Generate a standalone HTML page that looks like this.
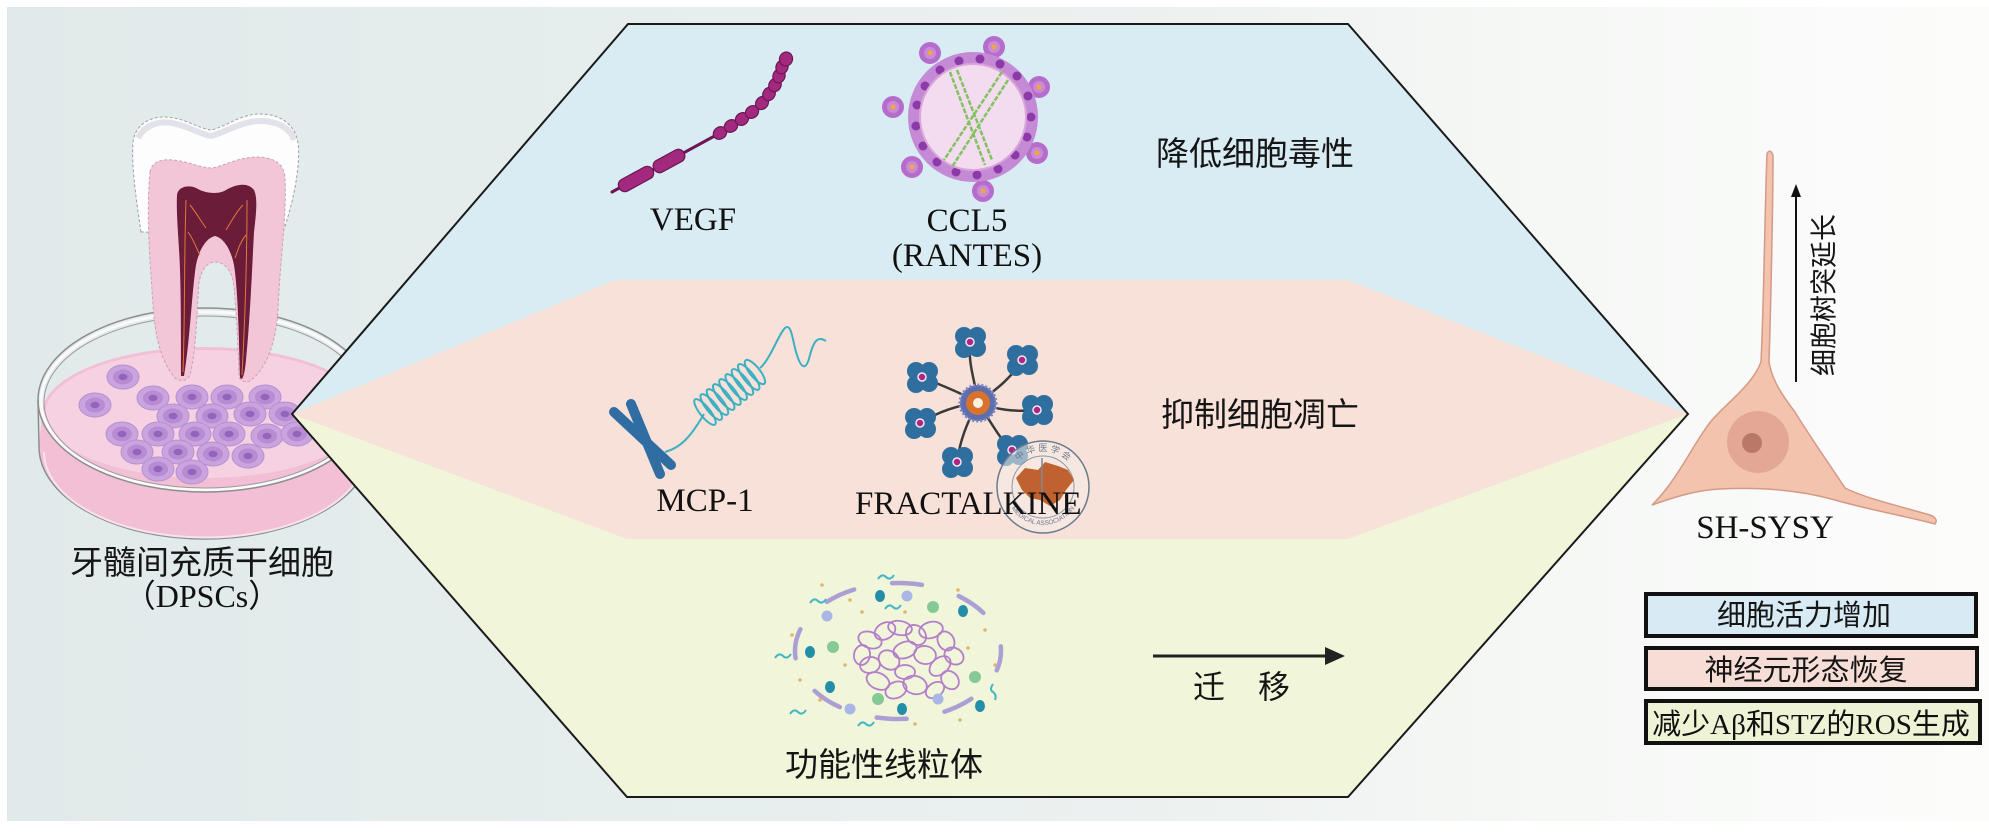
<!DOCTYPE html>
<html><head><meta charset="utf-8">
<style>
html,body{margin:0;padding:0;background:#fff;}
svg{display:block;}
</style></head><body>
<svg width="1989" height="834" viewBox="0 0 1989 834" xmlns="http://www.w3.org/2000/svg" xmlns:xlink="http://www.w3.org/1999/xlink">
<defs>
<linearGradient id="bg" x1="0" y1="0" x2="1" y2="0">
 <stop offset="0" stop-color="#e1eaea"/>
 <stop offset="0.3" stop-color="#e5eded"/>
 <stop offset="0.6" stop-color="#edf1f0"/>
 <stop offset="0.75" stop-color="#f5f7f5"/>
 <stop offset="0.93" stop-color="#fafbfa"/>
 <stop offset="1" stop-color="#fcfcfb"/>
</linearGradient>
<g id="cell"><ellipse rx="16" ry="12" fill="#caa4df" stroke="#b690d0" stroke-width="1"/><ellipse rx="10" ry="7.5" fill="#b78cd3"/><ellipse rx="4.5" ry="3.2" fill="#9364bb"/></g>
<g id="cl"><g fill="#2f6f9f"><circle cx="-6" cy="-6" r="9"/><circle cx="7" cy="-6" r="9"/><circle cx="-6" cy="7" r="9"/><circle cx="7" cy="6" r="9"/></g><circle r="4" fill="#ad2585" stroke="#f4e6f0" stroke-width="1.5"/></g>
<g id="spk"><circle r="11" fill="#b66ccb"/><circle r="6" fill="#c98bd8"/><circle r="2.5" fill="#f2a640"/></g>
<path id="wmTop" d="M1007,487 A36,36 0 0 1 1079,487"/>
<path id="wmBot" d="M1005,487 A38,38 0 0 0 1081,487"/>
</defs>

<rect x="0" y="0" width="1989" height="834" fill="#fff"/>
<rect x="7" y="7" width="1982" height="814" fill="url(#bg)"/>

<!-- Petri dish -->
<g>
 <path d="M42,414 A163,67 0 0 1 368,414 L371,447 A166,92 0 0 1 39,447 Z" fill="#f2bfd5"/>
 <ellipse cx="205" cy="414" rx="160" ry="64" fill="#f6d1e2"/>
 <ellipse cx="205" cy="401" rx="164" ry="89" fill="none" stroke="#fafafa" stroke-width="3"/>
 <ellipse cx="205" cy="400" rx="167" ry="92" fill="none" stroke="#8e8e8e" stroke-width="1.5"/>
 <ellipse cx="205" cy="402" rx="161" ry="86" fill="none" stroke="#9c9c9c" stroke-width="1"/>
 <path d="M38,400 L39,447 A166,92 0 0 0 371,447" fill="none" stroke="#8e8e8e" stroke-width="1.5"/>
 <path d="M44,452 A160,85 0 0 0 366,452" fill="none" stroke="#f7e3ec" stroke-width="2"/>
</g>
<g>
 <use xlink:href="#cell" x="123" y="377"/><use xlink:href="#cell" x="95" y="405"/>
 <use xlink:href="#cell" x="153" y="398"/><use xlink:href="#cell" x="192" y="397"/>
 <use xlink:href="#cell" x="227" y="397"/><use xlink:href="#cell" x="265" y="397"/>
 <use xlink:href="#cell" x="173" y="416"/><use xlink:href="#cell" x="212" y="416"/>
 <use xlink:href="#cell" x="250" y="414"/><use xlink:href="#cell" x="285" y="414"/>
 <use xlink:href="#cell" x="122" y="434"/><use xlink:href="#cell" x="158" y="434"/>
 <use xlink:href="#cell" x="195" y="434"/><use xlink:href="#cell" x="229" y="434"/>
 <use xlink:href="#cell" x="267" y="436"/><use xlink:href="#cell" x="297" y="434"/>
 <use xlink:href="#cell" x="137" y="452"/><use xlink:href="#cell" x="178" y="452"/>
 <use xlink:href="#cell" x="213" y="454"/><use xlink:href="#cell" x="248" y="456"/>
 <use xlink:href="#cell" x="158" y="469"/><use xlink:href="#cell" x="192" y="472"/>
</g>

<!-- Tooth -->
<g>
 <path d="M141,232 C137,205 131,165 133,142 C135,126 148,117 164,117 C183,117 197,128 211,130 C226,127 240,114 260,114 C280,114 295,124 298,143 C301,165 293,205 282,235 Z" fill="#fdfdfd" stroke="#a0a0a0" stroke-width="1" stroke-dasharray="3 2"/>
 <path d="M138,138 C145,124 160,121 172,123 C188,126 200,134 211,136 C226,132 242,121 260,121 C276,121 290,127 294,140" fill="none" stroke="#e2e2ea" stroke-width="6"/>
 <path d="M150,172 C152,160 165,158 180,161 C192,163 202,168 212,168 C224,166 236,158 255,157 C272,157 284,162 285,178 C287,215 280,260 278,310 C276,345 265,370 250,381 C244,383 240,381 239,376 C238,345 236,300 233,280 C230,268 223,262 215,262 C207,262 201,270 199,283 C197,305 197,345 190,375 C187,381 180,382 175,378 C160,360 155,335 153,305 C150,260 146,215 150,172 Z" fill="#f2c5d7" stroke="#c9a2b4" stroke-width="1" stroke-dasharray="3 2"/>
 <path d="M177,195 C178,186 190,184 198,189 C205,193 218,195 226,190 C236,184 248,182 254,190 C258,198 256,215 254,232 C252,270 250,320 246,360 C245,370 244,376 242,379 L240,378 C239,340 238,290 234,265 C231,250 224,238 215,236 C206,238 199,250 196,265 C192,290 190,340 184,376 L181,376 C181,340 181,300 180,270 C179,240 176,215 177,195 Z" fill="#6a1c38"/>
 <g fill="none" stroke="#e0793e" stroke-width="1">
  <path d="M186,200 C184,260 185,320 183,372"/>
  <path d="M247,200 C247,260 245,320 242,375"/>
  <path d="M190,205 C196,212 200,220 206,228"/>
  <path d="M243,205 C236,212 231,222 226,230"/>
  <path d="M188,232 C194,240 196,248 200,255"/>
  <path d="M246,235 C240,242 238,250 235,258"/>
 </g>
</g>

<!-- Hexagon bands -->
<polygon points="292,414 628,24 1348,24 1688,414 1348,797 627,797" fill="#f1f6da"/>
<polygon points="292,414 615,280 1348,280 1688,414 1348,539 627,539" fill="#f7e1d8"/>
<polygon points="292,414 628,24 1348,24 1688,414 1348,280 615,280" fill="#d9ecf4"/>
<polygon points="292,414 628,24 1348,24 1688,414 1348,797 627,797" fill="none" stroke="#1a1a1a" stroke-width="2"/>

<!-- VEGF -->
<g>
 <line x1="612" y1="192" x2="720" y2="133" stroke="#6d1556" stroke-width="3" stroke-linecap="round"/>
 <rect x="-19" y="-6.5" width="38" height="13" rx="6" transform="translate(636,179) rotate(-28.6)" fill="#a3297f" stroke="#6d1556" stroke-width="1.2"/>
 <rect x="-17" y="-6.5" width="34" height="13" rx="6" transform="translate(669,161) rotate(-28.6)" fill="#a3297f" stroke="#6d1556" stroke-width="1.2"/>
 <g fill="#a3297f" stroke="#6d1556" stroke-width="1.2">
  <ellipse cx="720" cy="133" rx="7" ry="6" transform="rotate(-35 720 133)"/>
  <ellipse cx="731" cy="126" rx="7" ry="6" transform="rotate(-35 731 126)"/>
  <ellipse cx="742" cy="119" rx="7" ry="6" transform="rotate(-38 742 119)"/>
  <ellipse cx="752" cy="112" rx="7" ry="6" transform="rotate(-40 752 112)"/>
  <ellipse cx="762" cy="103" rx="7" ry="6" transform="rotate(-48 762 103)"/>
  <ellipse cx="769" cy="94" rx="7" ry="6" transform="rotate(-55 769 94)"/>
  <ellipse cx="775" cy="85" rx="7" ry="6" transform="rotate(-62 775 85)"/>
  <ellipse cx="779" cy="76" rx="7" ry="6" transform="rotate(-70 779 76)"/>
  <ellipse cx="782" cy="67" rx="7" ry="6" transform="rotate(-72 782 67)"/>
  <ellipse cx="786" cy="59" rx="7" ry="6.5" transform="rotate(-72 786 59)"/>
 </g>
</g>

<!-- CCL5 virus -->
<g>
 <use xlink:href="#spk" x="930" y="53"/><use xlink:href="#spk" x="994" y="47"/>
 <use xlink:href="#spk" x="893" y="107"/><use xlink:href="#spk" x="912" y="167"/>
 <use xlink:href="#spk" x="983" y="191"/><use xlink:href="#spk" x="1039" y="87"/>
 <use xlink:href="#spk" x="1037" y="153"/>
 <circle cx="973" cy="117" r="65" fill="#c48ad6"/>
 <g fill="#8b3aa8">
  <circle cx="1031" cy="117" r="4.5"/><circle cx="1027" cy="137" r="4.5"/><circle cx="1015" cy="155" r="4.5"/>
  <circle cx="998" cy="169" r="4.5"/><circle cx="977" cy="175" r="4.5"/><circle cx="956" cy="172" r="4.5"/>
  <circle cx="937" cy="162" r="4.5"/><circle cx="923" cy="146" r="4.5"/><circle cx="916" cy="126" r="4.5"/>
  <circle cx="917" cy="105" r="4.5"/><circle cx="925" cy="86" r="4.5"/><circle cx="940" cy="70" r="4.5"/>
  <circle cx="959" cy="61" r="4.5"/><circle cx="980" cy="59" r="4.5"/><circle cx="1000" cy="64" r="4.5"/>
  <circle cx="1017" cy="76" r="4.5"/><circle cx="1028" cy="96" r="4.5"/>
 </g>
 <circle cx="973" cy="117" r="53" fill="#f4dcf0" stroke="#dba6d8" stroke-width="2"/>
 <g stroke="#82c260" stroke-width="2.5" stroke-dasharray="5 1.5" fill="none">
  <line x1="950" y1="72" x2="985" y2="165"/>
  <line x1="957" y1="70" x2="992" y2="160"/>
  <line x1="1002" y1="72" x2="944" y2="160"/>
  <line x1="1008" y1="80" x2="952" y2="167"/>
 </g>
</g>

<!-- MCP-1 -->
<g>
 <g stroke="#2f6da3" stroke-width="10" stroke-linecap="round">
  <line x1="614" y1="412" x2="671" y2="465"/>
  <line x1="631" y1="404" x2="660" y2="474"/>
 </g>
 <g fill="none" stroke="#3bb0c2" stroke-width="2">
  <path d="M665,452 C680,448 690,438 704,414"/>
  <g transform="translate(705,412) rotate(-38.7)">
   <ellipse cx="0" cy="0" rx="5" ry="16"/><ellipse cx="8" cy="0" rx="5" ry="16"/><ellipse cx="16" cy="0" rx="5" ry="16"/>
   <ellipse cx="24" cy="0" rx="5" ry="16"/><ellipse cx="32" cy="0" rx="5" ry="16"/><ellipse cx="40" cy="0" rx="5" ry="16"/>
   <ellipse cx="48" cy="0" rx="5" ry="16"/><ellipse cx="56" cy="0" rx="5" ry="16"/><ellipse cx="64" cy="0" rx="5" ry="15"/>
  </g>
  <path d="M760,368 C770,360 778,335 785,328 C792,322 793,345 797,355 C801,368 806,372 810,355 C814,340 818,336 826,341"/>
 </g>
</g>

<!-- Fractalkine -->
<g>
 <g fill="none" stroke="#3a3a3a" stroke-width="2.5">
  <path d="M978,403 C975,380 968,365 970,342"/>
  <path d="M978,403 C995,390 1010,380 1022,360"/>
  <path d="M978,403 C960,392 940,385 922,377"/>
  <path d="M978,403 C998,410 1015,412 1037,410"/>
  <path d="M978,403 C958,405 938,412 920,423"/>
  <path d="M978,403 C990,420 1000,440 1012,450"/>
  <path d="M978,403 C968,420 960,440 957,462"/>
 </g>
 <use xlink:href="#cl" x="970" y="342"/><use xlink:href="#cl" x="1022" y="360"/>
 <use xlink:href="#cl" x="922" y="377"/><use xlink:href="#cl" x="1037" y="410"/>
 <use xlink:href="#cl" x="920" y="423"/><use xlink:href="#cl" x="1012" y="450"/>
 <use xlink:href="#cl" x="957" y="462"/>
 <circle cx="978" cy="403" r="18" fill="#5d6eae" stroke="#7a86c0" stroke-width="3" stroke-dasharray="2 2"/>
 <circle cx="978" cy="403" r="12" fill="#d9722d"/>
 <circle cx="978" cy="403" r="5" fill="#fff3e0"/>
</g>

<!-- Watermark -->
<g>
 <circle cx="1043" cy="487" r="46" fill="#f6ece8" fill-opacity="0.55" stroke="#6b7a8c" stroke-width="1.5"/>
 <circle cx="1043" cy="487" r="31" fill="none" stroke="#8a96a4" stroke-width="1"/>
 <polygon points="1016,478 1025,468 1038,470 1045,462 1058,466 1068,470 1074,480 1066,490 1060,500 1050,506 1040,500 1030,498 1022,490" fill="#c0622f"/>
 <line x1="1042" y1="458" x2="1042" y2="512" stroke="#7d8896" stroke-width="1.5"/>
 <text font-family="'Liberation Sans','Noto Sans CJK SC',sans-serif" font-size="9" fill="#6b7a8c"><textPath xlink:href="#wmTop" startOffset="50%" text-anchor="middle">中 华 医 学 会</textPath></text>
 <text font-family="'Liberation Sans',sans-serif" font-size="6.5" fill="#6b7a8c"><textPath xlink:href="#wmBot" startOffset="50%" text-anchor="middle">MEDICAL ASSOCIATION</textPath></text>
</g>

<!-- Mitochondria -->
<g>
 <ellipse cx="898" cy="651" rx="103" ry="68" fill="none" stroke="#ab9fd4" stroke-width="4.5" stroke-linecap="round" stroke-dasharray="30 38.5" stroke-dashoffset="10"/>
 <g fill="none" stroke="#b47fca" stroke-width="1.8">
  <ellipse cx="870" cy="640" rx="12" ry="8" transform="rotate(20 870 640)"/>
  <ellipse cx="885" cy="631" rx="11" ry="8" transform="rotate(-30 885 631)"/>
  <ellipse cx="900" cy="628" rx="12" ry="7" transform="rotate(10 900 628)"/>
  <ellipse cx="916" cy="635" rx="11" ry="9" transform="rotate(45 916 635)"/>
  <ellipse cx="931" cy="630" rx="12" ry="8" transform="rotate(-15 931 630)"/>
  <ellipse cx="946" cy="641" rx="10" ry="8" transform="rotate(60 946 641)"/>
  <ellipse cx="954" cy="656" rx="10" ry="8" transform="rotate(30 954 656)"/>
  <ellipse cx="940" cy="666" rx="12" ry="8" transform="rotate(-40 940 666)"/>
  <ellipse cx="925" cy="655" rx="11" ry="9" transform="rotate(10 925 655)"/>
  <ellipse cx="905" cy="650" rx="12" ry="8" transform="rotate(-20 905 650)"/>
  <ellipse cx="889" cy="660" rx="11" ry="9" transform="rotate(35 889 660)"/>
  <ellipse cx="870" cy="665" rx="10" ry="8" transform="rotate(-10 870 665)"/>
  <ellipse cx="878" cy="681" rx="12" ry="8" transform="rotate(25 878 681)"/>
  <ellipse cx="896" cy="690" rx="11" ry="8" transform="rotate(-25 896 690)"/>
  <ellipse cx="915" cy="685" rx="12" ry="9" transform="rotate(15 915 685)"/>
  <ellipse cx="935" cy="690" rx="10" ry="7" transform="rotate(-35 935 690)"/>
  <ellipse cx="950" cy="680" rx="10" ry="8" transform="rotate(50 950 680)"/>
  <ellipse cx="905" cy="672" rx="10" ry="7" transform="rotate(0 905 672)"/>
  <ellipse cx="862" cy="655" rx="8" ry="10" transform="rotate(10 862 655)"/>
 </g>
 <g fill="#238ea8">
  <ellipse cx="880" cy="596" rx="5" ry="6"/><ellipse cx="963" cy="611" rx="5" ry="6"/>
  <ellipse cx="810" cy="652" rx="5" ry="6"/><ellipse cx="830" cy="687" rx="5" ry="6"/>
  <ellipse cx="902" cy="709" rx="5" ry="6"/><ellipse cx="980" cy="706" rx="5" ry="6"/>
 </g>
 <g fill="#85c994">
  <circle cx="833" cy="647" r="6"/><circle cx="933" cy="607" r="6"/>
  <circle cx="878" cy="699" r="6"/><circle cx="975" cy="677" r="6"/>
 </g>
 <g fill="#aab6e6">
  <circle cx="827" cy="616" r="5.5"/><circle cx="907" cy="596" r="5.5"/>
  <circle cx="850" cy="709" r="5.5"/><circle cx="938" cy="699" r="5.5"/>
 </g>
 <g fill="none" stroke="#40b6c6" stroke-width="2">
  <path d="M775,658 q4,-6 8,-2 q4,4 8,-2"/><path d="M810,603 q4,-6 8,-2 q4,4 8,-2"/>
  <path d="M878,579 q4,-6 8,-2 q4,4 8,-2"/><path d="M885,609 q4,-6 8,-2 q4,4 8,-2"/>
  <path d="M790,714 q4,-6 8,-2 q4,4 8,-2"/><path d="M858,726 q4,-6 8,-2 q4,4 8,-2"/>
  <path d="M993,684 q-4,6 0,8 q4,3 2,8"/>
 </g>
 <g fill="#e3b46c">
  <circle cx="792" cy="635" r="1.8"/><circle cx="822" cy="585" r="1.8"/><circle cx="850" cy="600" r="1.8"/>
  <circle cx="905" cy="612" r="1.8"/><circle cx="958" cy="590" r="1.8"/><circle cx="985" cy="630" r="1.8"/>
  <circle cx="995" cy="665" r="1.8"/><circle cx="960" cy="720" r="1.8"/><circle cx="915" cy="724" r="1.8"/>
  <circle cx="820" cy="700" r="1.8"/><circle cx="845" cy="665" r="1.8"/><circle cx="800" cy="680" r="1.8"/>
  <circle cx="968" cy="648" r="1.8"/><circle cx="862" cy="612" r="1.8"/>
 </g>
</g>

<!-- Horizontal arrow -->
<line x1="1153" y1="656" x2="1328" y2="656" stroke="#222" stroke-width="3"/>
<polygon points="1345,656 1325,647 1325,665" fill="#222"/>

<!-- Neuron -->
<g>
 <path d="M1767,154 C1765,200 1764,300 1761,362 C1752,385 1730,400 1712,420 C1695,440 1678,480 1652,505 C1672,498 1695,490 1720,489 C1760,487 1800,490 1835,500 C1870,510 1905,516 1935,524 C1938,520 1935,517 1930,515 C1895,505 1865,498 1845,488 C1830,465 1812,440 1795,412 C1782,395 1772,380 1769,362 C1771,300 1773,200 1773,156 C1772,150 1768,150 1767,154 Z" fill="#f3c3ae" stroke="#d49a86" stroke-width="1.5"/>
 <circle cx="1758" cy="442" r="31" fill="#e3a895"/>
 <circle cx="1752" cy="443" r="10" fill="#b97868"/>
</g>
<line x1="1796" y1="382" x2="1796" y2="194" stroke="#111" stroke-width="2"/>
<polygon points="1796,184 1791,197 1801,197" fill="#111"/>

<!-- Legend -->
<rect x="1646" y="594" width="330" height="42" fill="#d8ebf4" stroke="#111" stroke-width="4"/>
<rect x="1646" y="648" width="331" height="41" fill="#f6ddd5" stroke="#111" stroke-width="4"/>
<rect x="1646" y="701" width="334" height="42" fill="#eef3d5" stroke="#111" stroke-width="4"/>

<!-- Text -->
<g font-family="'Liberation Serif','Noto Sans CJK SC',serif" fill="#111">
 <text x="693" y="230" font-size="33" text-anchor="middle">VEGF</text>
 <text x="967" y="231" font-size="33" text-anchor="middle">CCL5</text>
 <text x="967" y="266" font-size="33" text-anchor="middle">(RANTES)</text>
 <text x="705" y="511" font-size="33" text-anchor="middle">MCP-1</text>
 <text x="855" y="514" font-size="33">FRACTALKINE</text>
 <text x="1765" y="538" font-size="33" text-anchor="middle">SH-SYSY</text>
 <text x="202" y="607" font-size="32" text-anchor="middle">（DPSCs）</text>
 <text x="1811" y="734" font-size="29" text-anchor="middle">减少Aβ和STZ的ROS生成</text>
</g>
<g font-family="'Noto Sans CJK SC','WenQuanYi Zen Hei',sans-serif" fill="#151515">
 <text x="1255" y="165" font-size="33" text-anchor="middle">降低细胞毒性</text>
 <text x="1260" y="426" font-size="33" text-anchor="middle">抑制细胞凋亡</text>
 <text x="884" y="776" font-size="33" text-anchor="middle">功能性线粒体</text>
 <text x="1209" y="698" font-size="32" text-anchor="middle">迁</text>
 <text x="1274" y="698" font-size="32" text-anchor="middle">移</text>
 <text x="202" y="574" font-size="33" text-anchor="middle">牙髓间充质干细胞</text>
 <text x="1804" y="625" font-size="29" text-anchor="middle">细胞活力增加</text>
 <text x="1806" y="680" font-size="29" text-anchor="middle">神经元形态恢复</text>
 <text transform="translate(1822,295) rotate(-90)" font-size="27" text-anchor="middle" dominant-baseline="central">细胞树突延长</text>
</g>
</svg>
</body></html>
